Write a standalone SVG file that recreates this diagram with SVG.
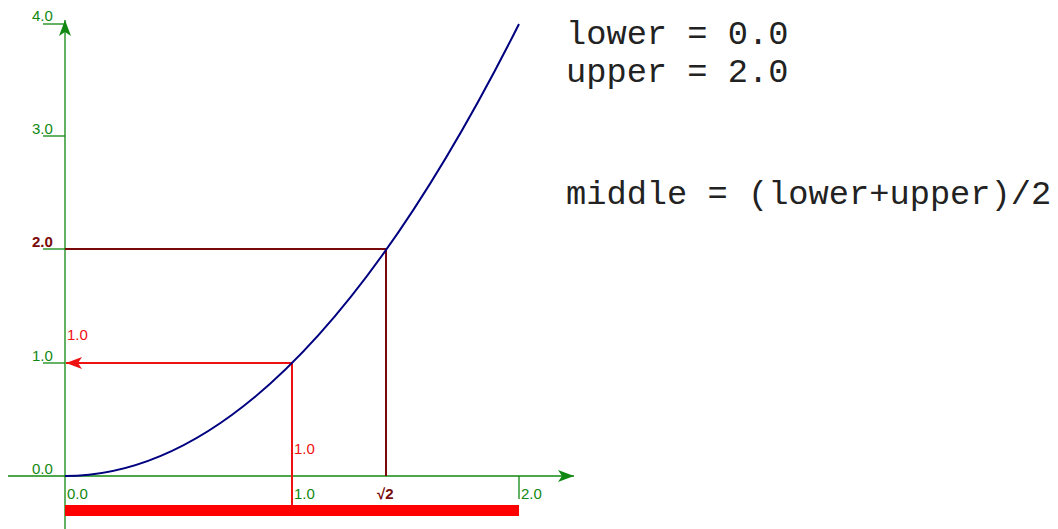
<svg xmlns="http://www.w3.org/2000/svg" width="1058" height="529" viewBox="0 0 1058 529">
<style>
.ax{stroke:#118811;stroke-width:1.3;fill:none}
.lg{font-family:"Liberation Sans",Arial,sans-serif;font-size:15px;fill:#118811}
.lr{font-family:"Liberation Sans",Arial,sans-serif;font-size:15px;fill:#ee1111}
.ld{font-family:"Liberation Sans",Arial,sans-serif;font-size:15px;font-weight:bold;fill:#7a0a0a}
.code{font-family:"Liberation Mono","Courier New",monospace;font-size:33.7px;fill:#222}
</style>
<defs>
<marker id="ag" markerWidth="18" markerHeight="12" refX="16" refY="6" orient="auto" markerUnits="userSpaceOnUse">
<path d="M0,0 L16,6 L0,12 L4,6 Z" fill="#118811"/>
</marker>
<marker id="ar" markerWidth="18" markerHeight="12" refX="16" refY="6" orient="auto" markerUnits="userSpaceOnUse">
<path d="M0,0 L16,6 L0,12 L4,6 Z" fill="#ee1111"/>
</marker>
</defs>
<g id="axes">
<line class="ax" x1="8" y1="476" x2="574" y2="476" marker-end="url(#ag)"/>
<line class="ax" x1="65" y1="529" x2="65" y2="20" marker-end="url(#ag)"/>
<line class="ax" x1="43" y1="24" x2="65" y2="24"/>
<line class="ax" x1="43" y1="136" x2="65" y2="136"/>
<line class="ax" x1="43" y1="249" x2="65" y2="249"/>
<line class="ax" x1="43" y1="363" x2="65" y2="363"/>
<line class="ax" x1="519" y1="476" x2="519" y2="499"/>
<text class="lg" x="32" y="21">4.0</text>
<text class="lg" x="32" y="134">3.0</text>
<text class="ld" x="32" y="247">2.0</text>
<text class="lg" x="32" y="361">1.0</text>
<text class="lg" x="32" y="474">0.0</text>
<text class="lg" x="67" y="499">0.0</text>
<text class="lg" x="294" y="499">1.0</text>
<text class="ld" x="377" y="499">√2</text>
<text class="lg" x="521" y="499">2.0</text>
</g>
<g id="sqrt2">
<polyline points="65,249 386,249 386,476" fill="none" stroke="#7a0a0a" stroke-width="2"/>
</g>
<g id="bar">
<rect x="65" y="505" width="454" height="11" fill="#ff0000"/>
</g>
<g id="middle">
<line x1="292" y1="505" x2="292" y2="363" stroke="#ee1111" stroke-width="2"/>
<line x1="292" y1="363" x2="66" y2="363" stroke="#ee1111" stroke-width="2" marker-end="url(#ar)"/>
<text class="lr" x="67" y="340">1.0</text>
<text class="lr" x="294" y="454">1.0</text>
</g>
<g id="curve">
<path d="M65,476 Q292,476 519,24" fill="none" stroke="#000080" stroke-width="2"/>
</g>
<g id="code">
<text class="code" x="566" y="44">lower = 0.0</text>
<text class="code" x="566" y="82">upper = 2.0</text>
<text class="code" x="566" y="204">middle = (lower+upper)/2</text>
</g>
</svg>
